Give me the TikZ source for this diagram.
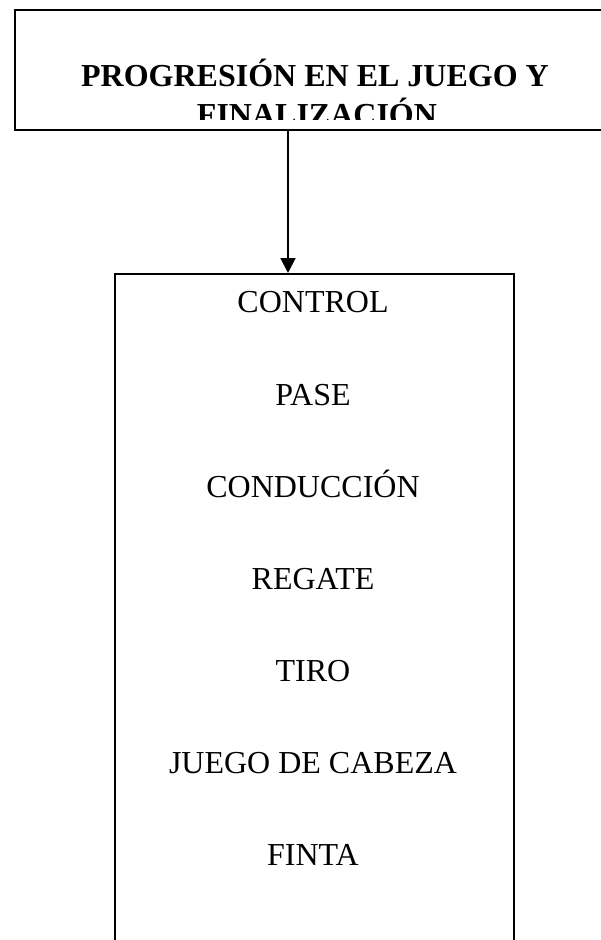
\documentclass[tikz,border=0pt]{standalone}
\usepackage{fontspec}
\setmainfont{Liberation Serif}
\usetikzlibrary{arrows.meta}

\tikzset{
  box/.style={draw, line width=0.75pt, inner sep=0pt},
  heading/.style={font=\fontsize{12}{14.4}\selectfont\bfseries, anchor=base, inner sep=0pt},
  item/.style={font=\fontsize{12}{14.4}\selectfont, anchor=base, inner sep=0pt},
  arrow/.style={-{Triangle[length=5.6pt,width=5.6pt]}, line width=0.75pt}
}

\begin{document}
\begin{tikzpicture}[x=0.375pt,y=-0.375pt]
            \useasboundingbox (0,0) rectangle (601,940);

            % top box, its right side runs off the page
            \node[box, anchor=north west, minimum width=227.6pt, minimum height=45pt] (title) at (14,9) {};
            \begin{scope}
              \clip (14,9) rectangle (640,120);
              \node[heading] (title1) at (315,87) {PROGRESIÓN EN EL JUEGO Y};
              \node[heading] (title2) at (317,126) {FINALIZACIÓN};
            \end{scope}

            % list box, its bottom runs off the page
            \node[box, anchor=north west, minimum width=149.6pt, minimum height=260pt] (skills) at (114,273) {};

            \foreach \name [count=\i] in {CONTROL, PASE, CONDUCCIÓN, REGATE, TIRO, JUEGO DE CABEZA, FINTA}
              \node[item] (skill\i) at (313, {313+92*(\i-1)}) {\name};

            \coordinate (tail) at (288,0 |- title.south);
            \draw [arrow] (tail) -- (tail |- skills.north);
        \end{tikzpicture}
\end{document}
